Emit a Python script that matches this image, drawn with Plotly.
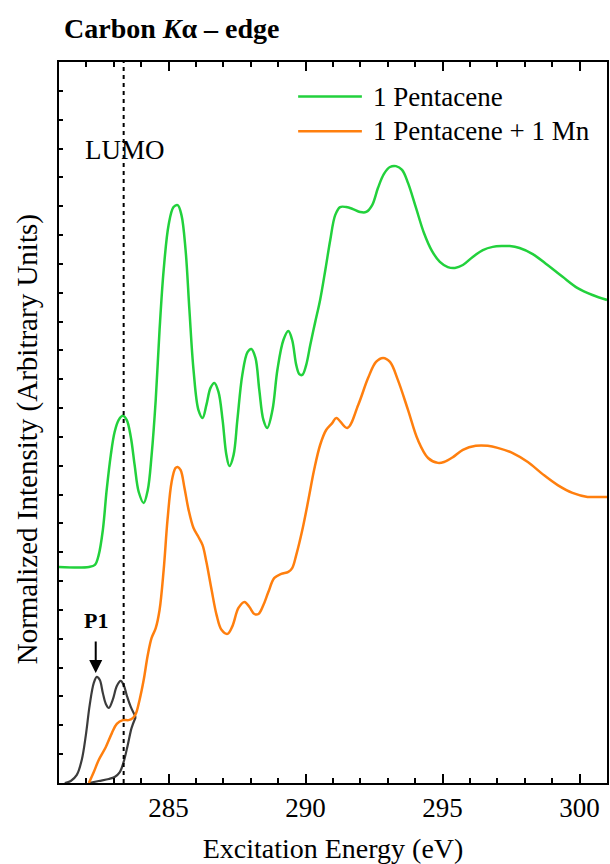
import plotly.graph_objects as go

# ---- data (energy in eV, intensity in arbitrary units) ----
pent_x = [281.0, 282.09, 282.31, 282.45, 282.60, 282.74, 282.89, 283.03, 283.18, 283.33,
          283.47, 283.62, 283.76, 283.91, 284.09, 284.24, 284.38, 284.53, 284.67, 284.82,
          285.00, 285.18, 285.33, 285.47, 285.62, 285.76, 285.91, 286.09, 286.24, 286.38,
          286.53, 286.67, 286.82, 286.97, 287.11, 287.22, 287.37, 287.51, 287.69, 287.88,
          288.02, 288.17, 288.31, 288.46, 288.60, 288.79, 288.97, 289.19, 289.37, 289.51,
          289.66, 289.77, 289.88, 290.02, 290.17, 290.35, 290.53, 290.72, 290.90, 291.08,
          291.26, 291.48, 291.73, 291.99, 292.21, 292.43, 292.64, 292.86, 293.08, 293.30,
          293.52, 293.74, 294.03, 294.32, 294.61, 294.90, 295.19, 295.45, 295.74, 296.10,
          296.47, 296.83, 297.20, 297.45, 297.81, 298.29, 298.83, 299.38, 299.93, 300.47,
          301.0]
pent_y = [7.49, 7.49, 7.56, 7.91, 8.77, 10.16, 11.37, 12.17, 12.59, 12.73,
          12.59, 12.00, 11.03, 10.09, 9.71, 10.16, 11.37, 13.28, 15.71, 17.79,
          19.35, 19.97, 20.04, 19.69, 18.48, 16.40, 14.32, 12.93, 12.66, 13.11,
          13.70, 13.87, 13.56, 12.59, 11.37, 10.99, 11.37, 12.59, 14.15, 14.94,
          15.05, 14.74, 13.63, 12.59, 12.31, 12.93, 14.32, 15.36, 15.67, 15.36,
          14.49, 14.18, 14.15, 14.49, 15.19, 15.98, 16.75, 17.79, 18.83, 19.69,
          19.97, 19.97, 19.90, 19.80, 19.80, 20.04, 20.63, 21.12, 21.36, 21.39,
          21.26, 20.80, 19.94, 19.07, 18.45, 18.07, 17.89, 17.86, 17.96, 18.24,
          18.48, 18.59, 18.62, 18.62, 18.55, 18.34, 17.96, 17.55, 17.16, 16.92,
          16.75]

mn_x = [282.09, 282.27, 282.45, 282.71, 282.93, 283.11, 283.33, 283.54, 283.69, 283.80,
        283.94, 284.09, 284.24, 284.38, 284.53, 284.67, 284.82, 284.96, 285.11, 285.25,
        285.33, 285.44, 285.58, 285.73, 285.91, 286.09, 286.24, 286.38, 286.57, 286.75,
        286.93, 287.15, 287.33, 287.55, 287.77, 287.95, 288.13, 288.28, 288.46, 288.64,
        288.86, 289.11, 289.37, 289.51, 289.66, 289.88, 290.10, 290.31, 290.53, 290.75,
        290.97, 291.12, 291.52, 291.92, 292.28, 292.57, 292.83, 293.08, 293.37, 293.74,
        294.10, 294.47, 294.83, 295.05, 295.38, 295.74, 296.21, 296.65, 297.01, 297.56,
        298.11, 298.65, 299.20, 299.74, 300.29, 300.65, 301.0]
mn_y = [0.0, 0.38, 0.80, 1.25, 1.73, 2.05, 2.18, 2.18, 2.25, 2.39,
        2.88, 3.57, 4.44, 5.03, 5.37, 6.00, 7.39, 9.12, 10.44, 10.92,
        10.96, 10.85, 10.23, 9.47, 8.84, 8.53, 8.25, 7.66, 6.69, 5.83,
        5.31, 5.17, 5.44, 6.07, 6.28, 6.10, 5.86, 5.86, 6.17, 6.62,
        7.11, 7.25, 7.32, 7.45, 7.91, 8.77, 9.81, 10.85, 11.72, 12.24,
        12.48, 12.66, 12.31, 13.11, 14.04, 14.60, 14.74, 14.60, 13.97, 12.93,
        11.89, 11.27, 11.10, 11.13, 11.30, 11.55, 11.69, 11.69, 11.62, 11.44,
        11.13, 10.71, 10.33, 10.06, 9.92, 9.92, 9.92]

p1_x = [281.21, 281.43, 281.65, 281.83, 281.98, 282.12, 282.27, 282.38, 282.49, 282.60,
        282.71, 282.82, 282.96, 283.11, 283.25, 283.36, 283.47, 283.62, 283.80]
p1_y = [0.0, 0.07, 0.28, 0.80, 1.66, 2.70, 3.47, 3.68, 3.57, 3.12,
        2.74, 2.60, 2.88, 3.36, 3.54, 3.40, 3.05, 2.64, 2.29]

rise_x = [282.09, 282.45, 282.82, 283.03, 283.22, 283.36, 283.51, 283.65, 283.80]
rise_y = [0.0, 0.07, 0.14, 0.21, 0.38, 0.73, 1.32, 1.91, 2.29]

lumo_energy = 283.36
series_names = ["1 Pentacene", "1 Pentacene + 1 Mn"]

GREEN = "#22d13c"
ORANGE = "#ff7f0e"
GRAY = "#3c3c3c"
FONT = "Liberation Serif"

fig = go.Figure()
fig.add_trace(go.Scatter(x=p1_x, y=p1_y, mode="lines", line=dict(color=GRAY, width=2.2, shape="spline"),
                         showlegend=False, hoverinfo="skip"))
fig.add_trace(go.Scatter(x=rise_x, y=rise_y, mode="lines", line=dict(color=GRAY, width=2.2, shape="spline"),
                         showlegend=False, hoverinfo="skip"))
fig.add_trace(go.Scatter(x=pent_x, y=pent_y, mode="lines", name=series_names[0],
                         line=dict(color=GREEN, width=2.5, shape="spline"), showlegend=False))
fig.add_trace(go.Scatter(x=mn_x, y=mn_y, mode="lines", name=series_names[1],
                         line=dict(color=ORANGE, width=2.5, shape="spline"), showlegend=False))

# LUMO line
fig.add_shape(type="line", xref="x", yref="paper", x0=lumo_energy, x1=lumo_energy, y0=0, y1=1,
              line=dict(color="black", width=2, dash="4px,4px"))

# manual legend
leg_y = [0.952, 0.904]
leg_c = [GREEN, ORANGE]
for yy, cc, nm in zip(leg_y, leg_c, series_names):
    fig.add_shape(type="line", xref="paper", yref="paper", x0=0.4364, x1=0.5527, y0=yy, y1=yy,
                  line=dict(color=cc, width=2.5))
    fig.add_annotation(xref="paper", yref="paper", x=0.569, y=yy, text=nm, showarrow=False,
                       xanchor="left", yanchor="middle", font=dict(family=FONT, size=27, color="black"))

fig.add_annotation(x=lumo_energy + 0.05, y=21.95, text="LUMO", showarrow=False,
                   font=dict(family=FONT, size=27, color="black"))
fig.add_annotation(x=282.34, y=3.81, ax=282.34, ay=4.96, axref="x", ayref="y", text="",
                   showarrow=True, arrowhead=2, arrowsize=1.3, arrowwidth=2, arrowcolor="black")
fig.add_annotation(x=282.34, y=5.65, text="<b>P1</b>", showarrow=False,
                   font=dict(family=FONT, size=22, color="black"))
fig.add_annotation(xref="paper", yref="paper", x=0, y=1.047, xshift=3, xanchor="left", yanchor="middle",
                   text="<b>Carbon <i>K</i>α – edge</b>", showarrow=False,
                   font=dict(family=FONT, size=28, color="black"))
# y-axis title (placed as in the reference, slightly below centre)
fig.add_annotation(xref="paper", yref="paper", x=-0.058, y=0.477, textangle=-90,
                   text="Normalized Intensity (Arbitrary Units)", showarrow=False,
                   xanchor="center", yanchor="middle", font=dict(family=FONT, size=29, color="black"))

fig.update_layout(
    width=610, height=864,
    margin=dict(l=59, r=1, t=62, b=81),
    paper_bgcolor="white", plot_bgcolor="white",
    font=dict(family=FONT, size=27, color="black"),
    xaxis=dict(range=[281, 301], tick0=285, dtick=5, ticks="inside", ticklen=9, tickwidth=2,
               tickcolor="black", showline=True, linewidth=2, linecolor="black", mirror="ticks",
               showgrid=False, zeroline=False, tickfont=dict(size=27),
               minor=dict(dtick=1, ticks="inside", ticklen=5, tickwidth=2, tickcolor="black", showgrid=False),
               title=dict(text="Excitation Energy (eV)", font=dict(size=28), standoff=16)),
    yaxis=dict(range=[0, 25], dtick=1, ticks="inside", ticklen=4, tickwidth=2, tickcolor="black",
               showticklabels=False, showline=True, linewidth=2, linecolor="black", mirror=True,
               showgrid=False, zeroline=False),
)

fig.write_html("out.html")
